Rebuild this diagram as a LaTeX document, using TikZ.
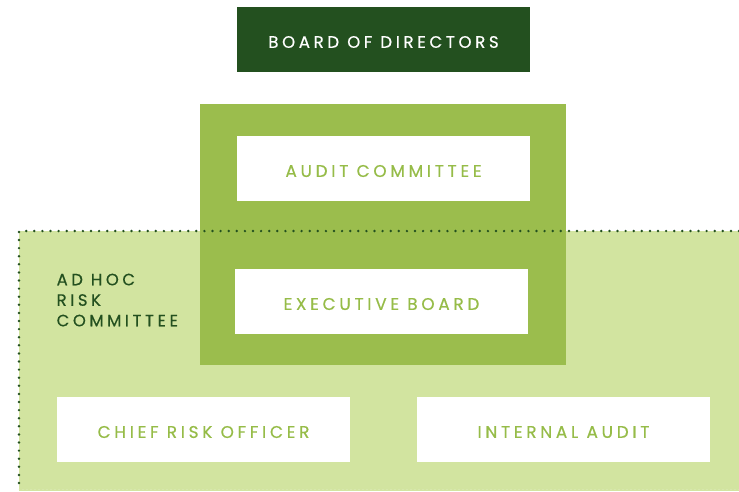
\documentclass[tikz,border=0pt]{standalone}
\usepackage{fontspec}
\newfontfamily\labfont[LetterSpace=22,FakeBold=0.5]{Poppins}
\definecolor{darkgr}{HTML}{23501F}
\definecolor{midgr}{HTML}{9BBD4D}
\definecolor{lightgr}{HTML}{D2E4A0}
\definecolor{txtgr}{HTML}{96BC48}
\newcommand{\lowtxt}[1]{\raisebox{-2.5pt}[\height][\depth]{#1}}
\tikzset{
  whitebox/.style={fill=white, minimum width=293pt, minimum height=65pt, inner sep=0pt, text=txtgr, font=\labfont\fontsize{16.9}{18}\selectfont},
  boardbox/.style={fill=darkgr, minimum width=293pt, minimum height=65pt, inner sep=0pt, text=white, font=\labfont\fontsize{16.6}{18}\selectfont},
  dotline/.style={draw=darkgr, line width=2.7pt, dash pattern=on 0pt off 8.1pt, line cap=round}
}
\begin{document}
\begin{tikzpicture}[x=1pt,y=-1pt]
\useasboundingbox (0,0) rectangle (739,491);
% light region
\fill[lightgr] (19,231) rectangle (739,491);
% middle square
\fill[midgr] (200,104) rectangle (566,365);
% dotted border
\coordinate (tl) at (19,231);
\coordinate (tr) at (739,231);
\coordinate (bl) at (19,491);
\draw[dotline] (tr) -- (tl) -- (bl);
\draw[draw=white!55!lightgr, line width=0.8pt, dash pattern=on 0pt off 4pt, line cap=round] (19,489.5) -- (739,489.5);
% boxes
\node[boardbox] (board) at (383.5,39.5) {\lowtxt{BOARD OF DIRECTORS}};
\node[whitebox] (audit) at (383.5,168.5) {\lowtxt{AUDIT COMMITTEE}};
\node[whitebox] (exec) at (381.5,301.5) {\lowtxt{EXECUTIVE BOARD}};
\node[whitebox] (cro) at (203.5,429.5) {\lowtxt{CHIEF RISK OFFICER}};
\node[whitebox] (ia) at (563.5,429.5) {\lowtxt{INTERNAL AUDIT}};
% label
\node[anchor=north west, inner sep=0pt, align=left, text=darkgr, font=\labfont\fontsize{16.4}{20.5}\selectfont] (adhoc) at (56.5,273.5) {AD HOC\\RISK\\COMMITTEE};
\end{tikzpicture}
\end{document}
